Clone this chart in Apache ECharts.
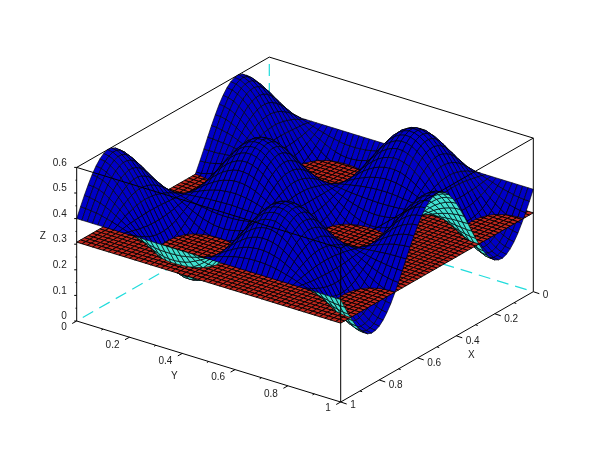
<!DOCTYPE html>
<html><head><meta charset="utf-8">
<style>html,body{margin:0;padding:0;background:#fff}#c{width:610px;height:460px}</style>
<script src="https://cdn.jsdelivr.net/npm/echarts@6/dist/echarts.min.js"></script>
</head><body><div id="c"></div>
<script>
// Surface heights in thousandths of Z, one row per X step, one column per Y step (0..1 in 50 steps).
const r0=[400,400,400,400,400,400,400,400,400,400,400,400,400,400,400,400,400,400,400,400,400,400,400,400,400,400,400,400,400,400,400,400,400,400,400,400,400,400,400,400,400,400,400,400,400,400,400,400,400,400,400];
const r1=[438,437,435,432,427,422,416,409,402,395,388,382,376,371,367,364,363,363,364,366,370,374,380,386,393,400,407,414,420,426,430,434,436,437,437,436,433,429,424,418,412,405,398,391,384,378,373,368,365,363,362];
const r2=[474,472,468,462,454,443,431,418,405,391,377,365,353,343,336,330,327,327,329,333,340,350,361,373,386,400,414,427,439,450,460,467,471,473,473,470,464,457,447,435,423,409,395,382,369,357,346,338,332,328,326];
const r3=[507,505,500,491,478,463,446,427,407,387,367,348,332,317,306,298,294,293,296,303,313,327,343,361,380,400,420,439,457,473,487,497,504,507,506,502,494,483,468,452,433,413,393,373,354,337,322,309,300,295,293];
const r4=[537,534,527,516,500,480,458,434,409,383,358,334,313,295,280,270,264,263,267,276,289,306,327,350,374,400,426,450,473,494,511,524,533,537,536,530,520,505,487,466,442,417,391,366,342,320,300,284,273,266,263];
const r5=[562,559,550,537,518,495,469,440,410,380,350,322,297,275,258,246,239,239,243,254,269,289,313,340,370,400,430,460,487,511,531,546,557,561,561,554,542,525,503,478,450,420,390,360,331,305,282,263,250,241,238];
const r6=[581,578,568,553,532,506,477,445,411,377,344,313,285,261,241,228,220,219,225,236,254,276,303,333,366,400,434,467,497,524,546,564,575,581,580,572,559,539,515,487,456,423,389,355,323,294,268,247,232,222,219];
const r7=[594,590,580,564,541,514,482,448,412,376,340,307,277,251,230,216,208,207,212,225,243,267,296,329,364,400,436,471,504,533,557,575,588,593,592,584,570,549,523,493,460,424,388,352,318,286,259,236,220,210,206];
const r8=[600,596,586,569,546,517,485,450,413,375,338,304,273,246,225,210,202,201,207,219,239,263,293,327,363,400,437,473,507,537,561,581,593,599,598,590,575,554,527,496,462,425,387,350,315,283,254,231,214,204,200];
const r9=[598,595,584,568,545,517,484,449,412,375,339,304,274,247,226,211,203,202,208,220,239,264,294,327,363,400,437,473,506,536,561,580,592,598,597,589,574,553,526,496,461,425,388,351,316,283,255,232,216,205,202];
const r10=[590,587,577,561,539,512,481,447,412,376,341,308,279,253,233,219,211,210,216,228,246,270,298,330,364,400,436,470,502,530,554,572,584,590,589,581,567,547,521,492,459,424,388,353,319,288,261,239,223,213,210];
const r11=[575,572,563,548,528,503,475,444,411,378,346,316,288,265,246,233,226,225,230,241,258,280,306,335,367,400,433,465,494,520,542,559,570,575,574,567,554,535,512,484,454,422,389,356,325,297,272,252,237,228,225];
const r12=[554,551,543,530,512,491,466,438,410,381,352,326,302,281,265,253,247,246,251,261,275,295,317,343,371,400,429,457,483,505,525,539,549,554,553,547,535,519,498,474,448,419,390,362,334,309,288,270,257,249,246];
const r13=[528,525,519,508,493,475,454,432,408,384,361,339,319,302,288,279,274,273,277,285,297,313,332,353,376,400,424,447,468,487,503,515,523,527,526,521,512,498,481,461,439,416,392,368,346,325,307,292,281,275,272];
const r14=[496,495,490,481,470,457,441,424,406,388,370,354,339,326,316,308,304,304,307,313,322,334,348,365,382,400,418,435,452,466,478,487,493,496,496,492,484,474,461,446,430,412,394,376,359,343,330,319,310,305,304];
const r15=[462,461,457,452,445,436,426,415,404,392,381,370,361,352,346,341,339,338,340,344,350,358,367,377,388,400,412,423,433,442,450,456,460,462,461,459,454,448,439,430,419,408,396,385,374,364,355,348,343,339,338];
const r16=[425,425,423,421,418,415,411,406,402,397,392,388,384,381,378,376,375,375,376,377,380,383,387,391,395,400,405,409,413,417,420,423,424,425,425,424,422,419,416,412,408,403,398,394,389,385,382,379,377,375,375];
const r17=[387,388,388,389,391,393,395,397,399,402,404,406,408,410,411,412,413,413,412,411,410,409,407,405,402,400,398,395,393,391,390,389,388,387,387,388,389,390,392,394,396,398,401,403,405,407,409,411,412,412,413];
const r18=[350,351,354,358,364,371,379,388,397,406,415,424,432,438,444,447,449,450,448,445,440,434,427,418,409,400,391,382,373,366,360,355,352,350,351,353,356,362,368,376,385,394,403,412,421,429,436,442,446,449,450];
const r19=[315,316,321,328,338,350,364,379,395,411,426,441,454,466,475,481,485,485,483,477,469,458,446,431,416,400,384,369,354,342,331,323,317,315,315,319,325,334,346,359,374,389,405,421,436,450,462,472,479,484,485];
const r20=[282,284,291,301,314,331,350,371,393,415,436,457,475,491,503,512,517,517,514,506,495,480,463,443,422,400,378,357,337,320,305,294,286,283,283,288,297,309,325,343,364,385,407,429,450,469,486,499,509,516,518];
const r21=[254,257,264,277,294,314,338,364,391,418,445,470,493,512,528,539,545,546,541,532,518,500,478,454,427,400,373,346,322,300,282,268,259,254,255,261,272,288,307,330,355,382,409,436,462,486,506,523,536,543,546];
const r22=[231,234,243,257,277,301,328,358,389,421,452,481,508,530,548,561,568,569,564,553,537,516,491,462,432,400,368,338,309,284,263,247,236,231,232,239,252,270,292,319,348,379,411,442,472,499,523,543,557,566,569];
const r23=[214,217,227,243,264,291,321,354,388,423,457,490,519,543,563,577,585,586,580,568,550,527,500,468,435,400,365,332,300,273,250,232,220,214,215,223,237,257,281,310,343,377,412,446,479,509,536,557,573,583,586];
const r24=[203,207,217,234,257,284,316,351,388,425,461,495,525,551,572,587,595,596,590,578,559,535,505,472,437,400,363,328,295,265,241,222,210,204,205,213,228,249,275,305,339,375,412,449,484,516,543,566,583,593,597];
const r25=[200,204,214,231,254,282,315,350,387,425,462,496,527,554,575,590,598,600,594,581,562,537,507,474,437,400,363,326,293,263,238,219,206,200,202,210,225,246,273,304,338,375,413,450,485,518,546,569,586,596,600];
const surfaceRows=[r0,r1,r2,r3,r4,r5,r6,r7,r8,r9,r10,r11,r12,r13,r14,r15,r16,r17,r18,r19,r20,r21,r22,r23,r24,r25,r24,r23,r22,r21,r20,r19,r18,r17,r16,r15,r14,r13,r12,r11,r10,r9,r8,r7,r6,r5,r4,r3,r2,r1,r0];
const planeLevel=0.308;

const xTicks=[0,0.2,0.4,0.6,0.8,1];
const xTickLabels=['0','0.2','0.4','0.6','0.8','1'];
const xMinor=[0.1,0.3,0.5,0.7,0.9];
const yTicks=[0,0.2,0.4,0.6,0.8,1];
const yTickLabels=['0','0.2','0.4','0.6','0.8','1'];
const yMinor=[0.1,0.3,0.5,0.7,0.9];
const zTicks=[0,0.1,0.2,0.3,0.4,0.5,0.6];
const zTickLabels=['0','0.1','0.2','0.3','0.4','0.5','0.6'];
const zMinor=[0.05,0.15,0.25,0.35,0.45,0.55];
const zTop=0.6;

const BLUE='#0000c8',CYAN='#40e0d0',RED='#c0281e',DASH='#20dcdc',FONT='10px "Liberation Sans"',TXT='#222';

// Fixed orthographic view of the unit box, giving positions on the hidden page-sized axes.
function project(p){const u=1-p[0];return [76.7+264*p[1]+192.6*u, 321+81*p[1]-110.3*u-256*p[2]];}
const depth=p=>p[0]+0.73*p[1]+0.66*p[2];

function clip(poly,keepAbove){
  const out=[],inside=p=>keepAbove?p[2]>=planeLevel:p[2]<=planeLevel;
  for(let k=0;k<poly.length;k++){
    const a=poly[k],b=poly[(k+1)%poly.length];
    if(inside(a))out.push(a);
    if(inside(a)!==inside(b)){
      const t=(planeLevel-a[2])/(b[2]-a[2]);
      out.push([a[0]+t*(b[0]-a[0]),a[1]+t*(b[1]-a[1]),planeLevel]);
    }
  }
  return out;
}
function area2(poly){let s=0;const q=poly.map(project);
  for(let k=0;k<q.length;k++){const a=q[k],b=q[(k+1)%q.length];s+=a[0]*b[1]-b[0]*a[1];}return s;}

const n=surfaceRows.length-1,below=[],above=[],plane=[];
const flatSign=Math.sign(area2([[0,0,0],[1,0,0],[1,1,0],[0,1,0]]));
for(let i=0;i<n;i++)for(let j=0;j<n;j++){
  const x0=i/n,x1=(i+1)/n,y0=j/n,y1=(j+1)/n;
  const q=[[x0,y0,surfaceRows[i][j]/1000],[x1,y0,surfaceRows[i+1][j]/1000],[x1,y1,surfaceRows[i+1][j+1]/1000],[x0,y1,surfaceRows[i][j+1]/1000]];
  const fill=Math.sign(area2(q))===flatSign?BLUE:CYAN;
  const d=q.reduce((s,p)=>s+depth(p),0)/4;
  const lo=clip(q,false),hi=clip(q,true);
  if(lo.length>2)below.push({pts:lo,fill,d,w:0.65});
  if(hi.length>2)above.push({pts:hi,fill,d,w:0.65});
  plane.push({pts:[[x0,y0,planeLevel],[x1,y0,planeLevel],[x1,y1,planeLevel],[x0,y1,planeLevel]],fill:RED,d:x0+0.73*y0,w:0.9});
}
const byDepth=(a,b)=>a.d-b.d;
const faces=[...below.sort(byDepth),...plane.sort(byDepth),...above.sort(byDepth)];

const C={lb:[1,0,0],fb:[1,1,0],rb:[0,1,0],bb:[0,0,0],lt:[1,0,zTop],ft:[1,1,zTop],rt:[0,1,zTop],bt:[0,0,zTop]};
const backDashed=[[C.lb,C.bb],[C.rb,C.bb],[C.bt,C.bb]];
const backSolid=[[C.lt,C.bt],[C.bt,C.rt]];
const frontSolid=[[C.lt,C.ft],[C.ft,C.rt],[C.lt,C.lb],[C.rt,C.rb],[C.ft,C.fb],[C.lb,C.fb],[C.fb,C.rb]];

const tickSegs=[];
const addTick=(p,dx,dy)=>tickSegs.push({p,dx,dy});
yTicks.forEach(v=>addTick([1,v,0],-4.5,2.5));yMinor.forEach(v=>addTick([1,v,0],-1.8,1));
xTicks.forEach(v=>addTick([v,1,0],6,2));xMinor.forEach(v=>addTick([v,1,0],2.2,.7));
zTicks.forEach(v=>addTick([1,0,v],-2.5,0));zMinor.forEach(v=>addTick([1,0,v],-1.2,0));

const texts=[];
yTicks.forEach((v,k)=>texts.push({p:[1,v,0],dx:-10,dy:yTickLabels[k].length>1?8:6,t:yTickLabels[k],a:'right'}));
xTicks.forEach((v,k)=>texts.push({p:[v,1,0],dx:9.5,dy:xTickLabels[k].length>1?5:3.5,t:xTickLabels[k],a:'left'}));
zTicks.forEach((v,k)=>texts.push({p:[1,0,v],dx:-10,dy:-4.5,t:zTickLabels[k],a:'right'}));
texts.push({p:[1,0.4,0],dx:-8,dy:23,t:'Y',a:'center'});
texts.push({p:[0.4,1,0],dx:15,dy:19,t:'X',a:'center'});
texts.push({p:[1,0,0.3],dx:-34,dy:-8,t:'Z',a:'center'});

const lineItem=(api,seg,style)=>{const a=api.coord(project(seg[0])),b=api.coord(project(seg[1]));
  return {type:'line',shape:{x1:a[0],y1:a[1],x2:b[0],y2:b[1]},style};};
const custom=(list,z,render)=>({type:'custom',coordinateSystem:'cartesian2d',silent:true,animation:false,progressive:0,clip:false,z,
  encode:{x:0,y:1},data:list.map(()=>[0,0]),renderItem:render});
const SOLID={stroke:'#000',lineWidth:1,fill:null};

const option={animation:false,backgroundColor:'#fff',
  grid:{left:0,right:0,top:0,bottom:0},
  xAxis:{type:'value',min:0,max:610,show:false},
  yAxis:{type:'value',min:0,max:460,inverse:true,show:false},
  series:[
    custom(backDashed,1,(pr,api)=>lineItem(api,backDashed[pr.dataIndex],{stroke:DASH,lineWidth:1.2,fill:null,lineDash:[12,7],lineDashOffset:-7})),
    custom(backSolid,2,(pr,api)=>lineItem(api,backSolid[pr.dataIndex],SOLID)),
    custom(faces,3,(pr,api)=>{const f=faces[pr.dataIndex];
      return {type:'polygon',shape:{points:f.pts.map(p=>api.coord(project(p)))},style:{fill:f.fill,stroke:'#000',lineWidth:f.w,lineJoin:'round'}};}),
    custom(frontSolid,4,(pr,api)=>lineItem(api,frontSolid[pr.dataIndex],SOLID)),
    custom(tickSegs,5,(pr,api)=>{const t=tickSegs[pr.dataIndex],a=api.coord(project(t.p));
      return {type:'line',shape:{x1:a[0],y1:a[1],x2:a[0]+t.dx,y2:a[1]+t.dy},style:SOLID};}),
    custom(texts,6,(pr,api)=>{const t=texts[pr.dataIndex],a=api.coord(project(t.p));
      return {type:'text',x:a[0]+t.dx,y:a[1]+t.dy,style:{text:t.t,font:FONT,fill:TXT,align:t.a,verticalAlign:'middle'}};})
  ]};
echarts.init(document.getElementById('c'),null,{renderer:'canvas'}).setOption(option);
</script></body></html>
